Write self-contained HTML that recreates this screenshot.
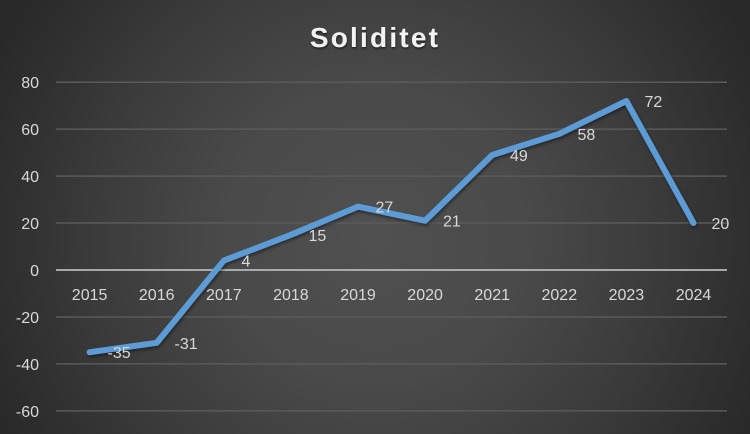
<!DOCTYPE html>
<html>
<head>
<meta charset="utf-8">
<style>
  html,body{margin:0;padding:0;}
  body{width:750px;height:434px;overflow:hidden;}
  .chart{position:relative;width:750px;height:434px;
    background:radial-gradient(circle 420px at 375px 235px,#505050 0%,#4a4a4a 35%,#3c3c3c 65%,#2d2d2d 92%,#292929 100%);}
  svg{position:absolute;left:0;top:0;}
  text{font-family:"Liberation Sans",Arial,sans-serif;}
</style>
</head>
<body>
<div class="chart">
<svg width="750" height="434" viewBox="0 0 750 434" xmlns="http://www.w3.org/2000/svg">
  <defs>
    <filter id="ts" x="-10%" y="-30%" width="120%" height="160%">
      <feDropShadow dx="0.5" dy="1.5" stdDeviation="1" flood-color="#000" flood-opacity="0.6"/>
    </filter>
    <filter id="ls" x="-5%" y="-5%" width="110%" height="110%">
      <feDropShadow dx="1" dy="2" stdDeviation="1.5" flood-color="#000" flood-opacity="0.45"/>
    </filter>
  </defs>

  <!-- title -->
  <text x="375" y="47" text-anchor="middle" font-size="28" font-weight="bold" fill="#f2f2f2" letter-spacing="2.2" filter="url(#ts)">Soliditet</text>

  <!-- gridlines -->
  <g stroke="#5a5a5a" stroke-width="1.5">
    <line x1="56" y1="82.2" x2="727" y2="82.2"/>
    <line x1="56" y1="129.1" x2="727" y2="129.1"/>
    <line x1="56" y1="176.1" x2="727" y2="176.1"/>
    <line x1="56" y1="223" x2="727" y2="223"/>
    <line x1="56" y1="317" x2="727" y2="317"/>
    <line x1="56" y1="363.9" x2="727" y2="363.9"/>
    <line x1="56" y1="410.9" x2="727" y2="410.9"/>
  </g>
  <line x1="56" y1="270" x2="727" y2="270" stroke="#b8b8b8" stroke-width="1.8"/>

  <!-- y axis labels -->
  <g font-size="16" fill="#d9d9d9" text-anchor="end">
    <text x="39" y="88">80</text>
    <text x="39" y="135">60</text>
    <text x="39" y="182">40</text>
    <text x="39" y="229">20</text>
    <text x="39" y="276">0</text>
    <text x="39" y="323">-20</text>
    <text x="39" y="370">-40</text>
    <text x="39" y="417">-60</text>
  </g>

  <!-- x axis labels -->
  <g font-size="16" fill="#d9d9d9" text-anchor="middle">
    <text x="89.6" y="300">2015</text>
    <text x="156.7" y="300">2016</text>
    <text x="223.8" y="300">2017</text>
    <text x="290.9" y="300">2018</text>
    <text x="358" y="300">2019</text>
    <text x="425.1" y="300">2020</text>
    <text x="492.2" y="300">2021</text>
    <text x="559.3" y="300">2022</text>
    <text x="626.4" y="300">2023</text>
    <text x="693.5" y="300">2024</text>
  </g>

  <!-- series line -->
  <polyline fill="none" stroke="#5b9bd5" stroke-width="6" stroke-linejoin="round" stroke-linecap="round" filter="url(#ls)"
    points="89.6,352.2 156.7,342.8 223.8,260.6 290.9,234.8 358,206.6 425.1,220.7 492.2,155 559.3,133.8 626.4,101 693.5,223"/>

  <!-- data labels -->
  <g font-size="16" fill="#d9d9d9">
    <text x="107.5" y="358">-35</text>
    <text x="174.5" y="349">-31</text>
    <text x="241.5" y="266.5">4</text>
    <text x="308.5" y="241">15</text>
    <text x="375.5" y="212.5">27</text>
    <text x="443" y="226.5">21</text>
    <text x="510" y="161">49</text>
    <text x="577.5" y="140">58</text>
    <text x="644.5" y="107">72</text>
    <text x="711.5" y="229">20</text>
  </g>
</svg>
</div>
</body>
</html>
